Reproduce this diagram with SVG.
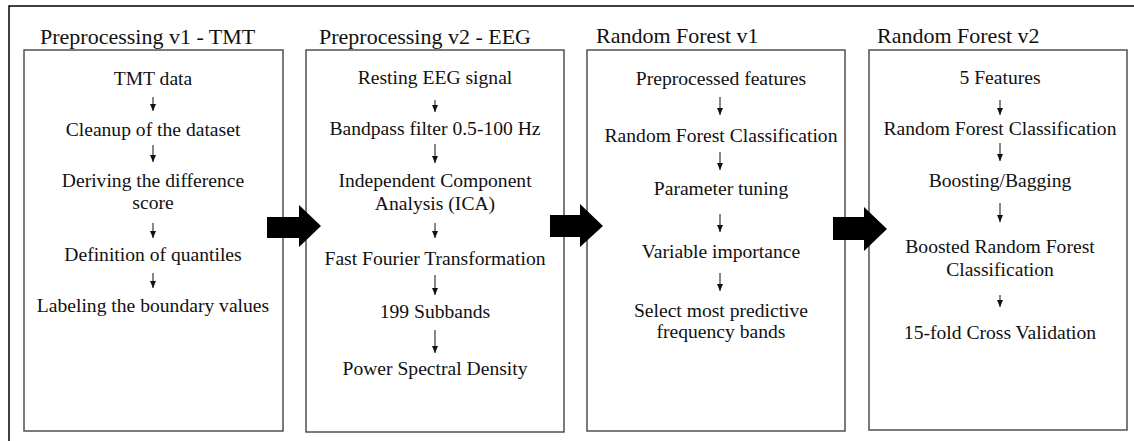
<svg xmlns="http://www.w3.org/2000/svg" width="1134" height="441" viewBox="0 0 1134 441">
  <style>
    .frame { fill: none; stroke: #000; stroke-width: 1.5; }
    .box { fill: #fff; stroke: #444; stroke-width: 1.4; }
    .title { font-family: "Liberation Serif", "Times New Roman", serif; font-size: 22px; fill: #111; }
    .step { font-family: "Liberation Serif", "Times New Roman", serif; font-size: 19.6px; fill: #111; text-anchor: middle; }
    .flow { stroke: #111; stroke-width: 1; fill: none; marker-end: url(#tip); }
    .big { fill: #000; }
  </style>
  <defs>
    <marker id="tip" viewBox="0 0 7 6" refX="7" refY="3" markerWidth="7" markerHeight="6" markerUnits="userSpaceOnUse" orient="auto">
      <path d="M0,0 L7,3 L0,6 Z" fill="#111"/>
    </marker>
  </defs>

  <!-- outer frame: top and left rules -->
  <path class="frame" d="M9,441 V6 H1134"/>

  <!-- stage 1 -->
  <g id="stage-tmt">
    <text class="title" x="40" y="44">Preprocessing v1 - TMT</text>
    <rect class="box" x="24" y="50" width="259" height="381"/>
    <text class="step" x="153" y="85">TMT data</text>
    <text class="step" x="153" y="136">Cleanup of the dataset</text>
    <text class="step" x="153" y="187">Deriving the difference</text>
    <text class="step" x="153" y="209">score</text>
    <text class="step" x="153" y="261">Definition of quantiles</text>
    <text class="step" x="153" y="312">Labeling the boundary values</text>
  </g>

  <!-- stage 2 -->
  <g id="stage-eeg">
    <text class="title" x="319" y="44">Preprocessing v2 - EEG</text>
    <rect class="box" x="306" y="50" width="258" height="382"/>
    <text class="step" x="435" y="84">Resting EEG signal</text>
    <text class="step" x="435" y="135">Bandpass filter 0.5-100 Hz</text>
    <text class="step" x="435" y="187">Independent Component</text>
    <text class="step" x="435" y="210">Analysis (ICA)</text>
    <text class="step" x="435" y="265">Fast Fourier Transformation</text>
    <text class="step" x="435" y="318">199 Subbands</text>
    <text class="step" x="435" y="375">Power Spectral Density</text>
  </g>

  <!-- stage 3 -->
  <g id="stage-rf1">
    <text class="title" x="596" y="43">Random Forest v1</text>
    <rect class="box" x="587" y="50" width="258" height="381"/>
    <text class="step" x="721" y="85">Preprocessed features</text>
    <text class="step" x="721" y="142">Random Forest Classification</text>
    <text class="step" x="721" y="195">Parameter tuning</text>
    <text class="step" x="721" y="258">Variable importance</text>
    <text class="step" x="721" y="317">Select most predictive</text>
    <text class="step" x="721" y="338">frequency bands</text>
  </g>

  <!-- stage 4 -->
  <g id="stage-rf2">
    <text class="title" x="877" y="43">Random Forest v2</text>
    <rect class="box" x="869" y="50" width="258" height="380"/>
    <text class="step" x="1000" y="84">5 Features</text>
    <text class="step" x="1000" y="135">Random Forest Classification</text>
    <text class="step" x="1000" y="187">Boosting/Bagging</text>
    <text class="step" x="1000" y="253">Boosted Random Forest</text>
    <text class="step" x="1000" y="276">Classification</text>
    <text class="step" x="1000" y="339">15-fold Cross Validation</text>
  </g>

  <!-- connectors -->
  <g id="connectors">
    <!-- steps inside each stage -->
    <line class="flow" x1="153" y1="97" x2="153" y2="111"/>
    <line class="flow" x1="153" y1="145" x2="153" y2="162"/>
    <line class="flow" x1="153" y1="223" x2="153" y2="238"/>
    <line class="flow" x1="153" y1="273" x2="153" y2="288"/>

    <line class="flow" x1="435" y1="100" x2="435" y2="112"/>
    <line class="flow" x1="435" y1="144" x2="435" y2="163"/>
    <line class="flow" x1="435" y1="223" x2="435" y2="238"/>
    <line class="flow" x1="435" y1="275" x2="435" y2="295"/>
    <line class="flow" x1="435" y1="330" x2="435" y2="353"/>

    <line class="flow" x1="720" y1="97" x2="720" y2="115"/>
    <line class="flow" x1="720" y1="152" x2="720" y2="170"/>
    <line class="flow" x1="720" y1="214" x2="720" y2="232"/>
    <line class="flow" x1="720" y1="273" x2="720" y2="291"/>

    <line class="flow" x1="1000" y1="100" x2="1000" y2="115"/>
    <line class="flow" x1="1000" y1="143" x2="1000" y2="161"/>
    <line class="flow" x1="1000" y1="203" x2="1000" y2="222"/>
    <line class="flow" x1="1000" y1="295" x2="1000" y2="307"/>

    <!-- block arrows between stages -->
    <path class="big" d="M267,217 H299 V205 L321,226 L299,247 V238 H267 Z"/>
    <path class="big" d="M550,215 H580 V204 L603,226 L580,247 V237 H550 Z"/>
    <path class="big" d="M833,217 H864 V207 L887,229 L864,251 V240 H833 Z"/>
  </g>
</svg>
